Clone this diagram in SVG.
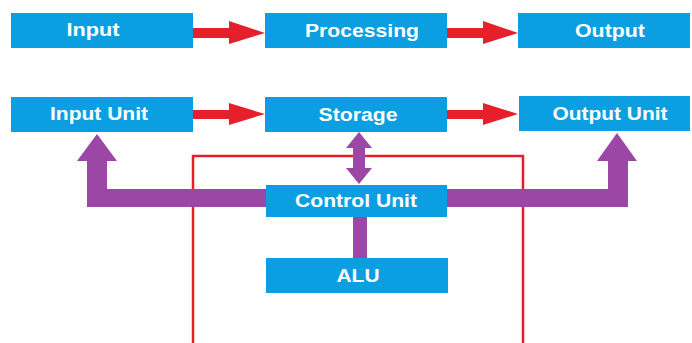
<svg xmlns="http://www.w3.org/2000/svg" width="692" height="343" viewBox="0 0 692 343">
<style>
.box{fill:#0b9fe1}
.lbl{fill:#ffffff;font-family:"Liberation Sans",Arial,sans-serif;font-weight:bold;font-size:18px;text-anchor:middle}
.red{fill:#e5202a}
.pur{fill:#9c46a6}
</style>
<rect width="692" height="343" fill="#ffffff"/>
<g id="frame"><path d="M193 343 V156 H523 V343" fill="none" stroke="#e5202a" stroke-width="2.5"/></g>
<g id="connectors">
<polygon class="red" points="193,28 229,28 229,21 265,33 229,44 229,38 193,38"/>
<polygon class="red" points="447,28 483,28 483,21 518,33 483,44 483,38 447,38"/>
<polygon class="red" points="193,110 229,110 229,103 265,114 229,125 229,119 193,119"/>
<polygon class="red" points="447,110 483,110 483,103 518,114 483,125 483,119 447,119"/>
<polygon class="pur" points="266,189 107,189 107,161 117,161 97,134 77,161 87,161 87,207 266,207"/>
<polygon class="pur" points="447,189 608,189 608,161 597,161 617,133 637,161 628,161 628,207 447,207"/>
<polygon class="pur" points="359,132 372,148 365,148 365,168 372,168 359,184 346,168 353,168 353,148 346,148"/>
<rect class="pur" x="353" y="216" width="14" height="43"/>
</g>
<g id="input"><rect class="box" x="11" y="13" width="182" height="35"/><text class="lbl" x="93" y="36" textLength="53" lengthAdjust="spacingAndGlyphs">Input</text></g>
<g id="processing"><rect class="box" x="265" y="13" width="182" height="35"/><text class="lbl" x="362" y="37" textLength="114" lengthAdjust="spacingAndGlyphs">Processing</text></g>
<g id="output"><rect class="box" x="518" y="13" width="172" height="35"/><text class="lbl" x="610" y="37" textLength="70" lengthAdjust="spacingAndGlyphs">Output</text></g>
<g id="input-unit"><rect class="box" x="11" y="97" width="182" height="35"/><text class="lbl" x="99" y="120" textLength="98" lengthAdjust="spacingAndGlyphs">Input Unit</text></g>
<g id="storage"><rect class="box" x="265" y="97" width="182" height="35"/><text class="lbl" x="358" y="121" textLength="79" lengthAdjust="spacingAndGlyphs">Storage</text></g>
<g id="output-unit"><rect class="box" x="519" y="96" width="171" height="35"/><text class="lbl" x="610" y="120" textLength="115" lengthAdjust="spacingAndGlyphs">Output Unit</text></g>
<g id="control-unit"><rect class="box" x="266" y="185" width="181" height="32"/><text class="lbl" x="356" y="207" textLength="122" lengthAdjust="spacingAndGlyphs">Control Unit</text></g>
<g id="alu"><rect class="box" x="266" y="258" width="182" height="35"/><text class="lbl" x="358" y="282" textLength="43" lengthAdjust="spacingAndGlyphs">ALU</text></g>
</svg>
